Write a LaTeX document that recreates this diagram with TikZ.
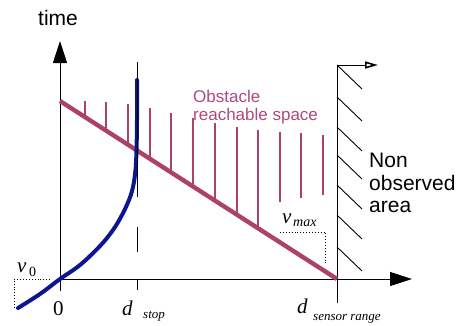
\documentclass[tikz,border=0pt]{standalone}
\usepackage{fontspec}
\setmainfont{Liberation Sans}
\newfontfamily\tms{Liberation Serif}
\usetikzlibrary{arrows.meta}
\definecolor{maroon}{RGB}{172,66,100}
\definecolor{maroontext}{RGB}{176,72,128}
\definecolor{navy}{RGB}{12,22,145}
\tikzset{
  axisline/.style={draw=black,line width=1pt},
  bigtip/.style={-{Triangle[length=22pt,width=14pt]}},
  redthick/.style={draw=maroon,line width=4.4pt},
  redthin/.style={draw=maroon,line width=1.1pt},
  hatchline/.style={draw=black,line width=0.9pt},
  bluecurve/.style={draw=navy,line width=4pt,line cap=round,line join=round},
  helpline/.style={draw=black,line width=0.9pt,dotted},
  lbl/.style={inner sep=0pt,anchor=base west,font=\fontsize{21}{24}\selectfont},
  mathbig/.style={inner sep=0pt,anchor=base west,font=\fontsize{21}{24}\selectfont\tms\itshape},
  mathsub/.style={inner sep=0pt,anchor=base west,font=\fontsize{13}{15}\selectfont\tms\itshape}
}
\begin{document}
\begin{tikzpicture}[x=1pt,y=-1pt]
\useasboundingbox (0,0) rectangle (456,325);
% key points
\coordinate (O) at (60,279);
\coordinate (Ttop) at (60,41);
\coordinate (Tbot) at (60,291);
\coordinate (Xend) at (412,279);
\coordinate (S) at (337,279);
\coordinate (Stop) at (337,65);
\coordinate (Sbot) at (337,303);
\coordinate (Harr) at (378,65);
\coordinate (R0) at (60,101);
% obstacle reachable space (thin lines)
\foreach \x/\t/\b in {85/101/117,106/102/131,128/104/145,150/108/159,171/113/172,193/118/186,215/123/200,237/127/214,258/130/227,280/132/202,301/133/198,323/135/195}
  \draw[redthin] (\x,\t) -- (\x,\b);
% hatching of non observed area
\foreach \y in {65,97,127,155,185,215,247}
  \draw[hatchline] (337,\y) -- ++(25,24);
% axes
\draw[axisline,bigtip] (Tbot) -- (Ttop);
\draw[axisline,bigtip] (O) -- (Xend);
\draw[axisline] (Sbot) -- (Stop);
\draw[axisline,-{Triangle[open,length=13pt,width=7pt,line width=1.6pt]}] (Stop) -- (Harr);
% obstacle line
\draw[redthick] (R0) -- (S);
% helper dotted triangles
\coordinate (v0a) at (50,279);
\coordinate (v0b) at (14,279);
\coordinate (v0c) at (14,308);
\draw[helpline] (v0a) -- (v0b) -- (v0c);
\coordinate (vma) at (280,232);
\coordinate (vmb) at (325,232);
\coordinate (vmc) at (325,263);
\draw[helpline] (vma) -- (vmb) -- (vmc);
% vehicle trajectory
\draw[bluecurve] plot[smooth,tension=0.6] coordinates {(18,308) (40,294) (60,279) (80,265) (100,246) (113,230) (122,215) (129,200) (133,187) (135.5,170) (136.5,150) (137,120) (137,80)};
% d_stop marker
\coordinate (ds1) at (137,62);
\coordinate (ds2) at (137,197);
\coordinate (ds3) at (137,227);
\coordinate (ds4) at (137,252);
\coordinate (ds5) at (137,279);
\coordinate (ds6) at (137,290);
\draw[axisline,line width=0.8pt] (ds1) -- (ds2);
\draw[axisline] (ds3) -- (ds4);
\draw[axisline] (ds5) -- (ds6);
% labels
\node[lbl] (time) at (38,25) {time};
\node[inner sep=0pt,anchor=base west,font=\fontsize{17}{20}\selectfont,text=maroontext] (obs1) at (193,102) {Obstacle};
\node[inner sep=0pt,anchor=base west,font=\fontsize{17}{20}\selectfont,text=maroontext] (obs2) at (193,120.5) {reachable space};
\node[lbl] (non1) at (369,167) {Non};
\node[lbl] (non2) at (369,190) {observed};
\node[lbl] (non3) at (369,212.5) {area};
\node[inner sep=0pt,anchor=base west,font=\fontsize{21}{24}\selectfont\tms] (zero) at (53,315) {0};
\node[mathbig] (dstop) at (122,315) {d};
\node[mathsub] (dstopsub) at (143,318) {stop};
\node[mathbig] (dsens) at (297,313) {d};
\node[mathsub] (dsenssub) at (313,320) {sensor range};
\node[mathbig] (vmax) at (282,223) {v};
\node[mathsub,font=\fontsize{14}{16}\selectfont\tms\itshape] (vmaxsub) at (293,226) {max};
\node[mathbig] (vzero) at (17,272) {v};
\node[mathsub,font=\fontsize{14}{16}\selectfont\tms] (vzerosub) at (29,276) {0};
\end{tikzpicture}
\end{document}
